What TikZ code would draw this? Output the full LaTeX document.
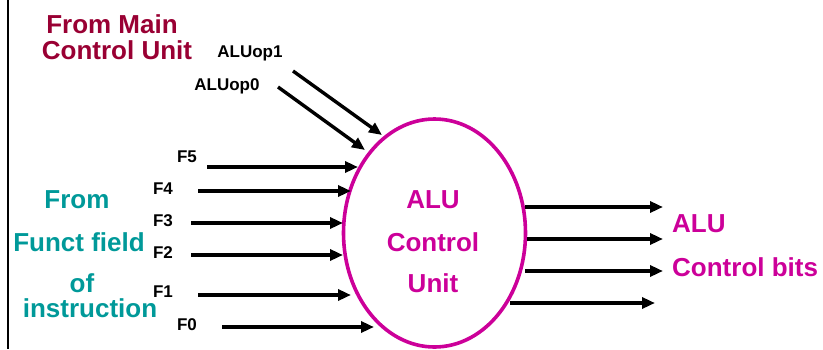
\documentclass[tikz,border=0pt]{standalone}
\usepackage{fontspec}
\setmainfont{Liberation Sans}
\usetikzlibrary{shapes.geometric,arrows.meta}
\definecolor{maroon}{RGB}{153,0,51}
\definecolor{tealc}{RGB}{0,153,153}
\definecolor{magentac}{RGB}{204,0,153}
\tikzset{
  big/.style={font=\fontsize{26}{26}\selectfont\bfseries, inner sep=0pt},
  small/.style={font=\fontsize{17}{17}\selectfont\bfseries, inner sep=0pt},
  sig/.style={line width=3.4pt, -{Triangle[length=13pt,width=11pt]}},
  unit/.style={ellipse, draw=magentac, line width=3.6pt, minimum width=182pt,
    minimum height=228pt, inner sep=0pt},
}
\begin{document}
\begin{tikzpicture}[x=1pt,y=-1pt]
\useasboundingbox (0,0) rectangle (823,349);
% left frame edge
\draw[line width=2.6pt] (8,0) -- (8,349);

% the ALU control unit
\node[unit] (acu) at (434.5,233) {};
\node[big, text=magentac] (t1) at (433,200) {ALU};
\node[big, text=magentac] (t2) at (433,242) {Control};
\node[big, text=magentac] (t3) at (433,283) {Unit};

% source labels
\node[big, text=maroon] (main1) at (112,24) {From Main};
\node[big, text=maroon] (main2) at (117,50) {Control Unit};
\node[big, text=tealc] (fn1) at (77,200) {From};
\node[big, text=tealc] (fn2) at (79,242) {Funct field};
\node[big, text=tealc] (fn3) at (82,283) {of};
\node[big, text=tealc] (fn4) at (90,308) {instruction};

% ALUop inputs
\node[small] (op1) at (250,53) {ALUop1};
\node[small] (op0) at (227,86) {ALUop0};
\coordinate (op1s) at (293,71);
\coordinate (op1e) at (382,135);
\coordinate (op0s) at (278,87);
\coordinate (op0e) at (365,150);
\draw[sig] (op1s) -- (op1e);
\draw[sig] (op0s) -- (op0e);

% function field inputs
\node[small] (lf5) at (187,157) {F5};
\node[small] (lf4) at (163,189) {F4};
\node[small] (lf3) at (163,221) {F3};
\node[small] (lf2) at (163,253) {F2};
\node[small] (lf1) at (163,292) {F1};
\node[small] (lf0) at (187,325) {F0};
\coordinate (s5) at (207,167); \coordinate (e5) at (358,167);
\coordinate (s4) at (198,191); \coordinate (e4) at (351,191);
\coordinate (s3) at (191,223); \coordinate (e3) at (343,223);
\coordinate (s2) at (191,255); \coordinate (e2) at (343,255);
\coordinate (s1) at (198,295); \coordinate (e1) at (351,295);
\coordinate (s0) at (222,327); \coordinate (e0) at (374,327);
\foreach \i in {5,4,3,2,1,0} \draw[sig] (s\i) -- (e\i);

% control bit outputs
\coordinate (o1s) at (525,207); \coordinate (o1e) at (663,207);
\coordinate (o2s) at (527,239); \coordinate (o2e) at (663,239);
\coordinate (o3s) at (525,271); \coordinate (o3e) at (663,271);
\coordinate (o4s) at (510,303); \coordinate (o4e) at (655,303);
\foreach \i in {1,2,3,4} \draw[sig] (o\i s) -- (o\i e);
\node[big, text=magentac, anchor=west] (out1) at (672,224) {ALU};
\node[big, text=magentac, anchor=west] (out2) at (672,267) {Control bits};
\end{tikzpicture}
\end{document}
